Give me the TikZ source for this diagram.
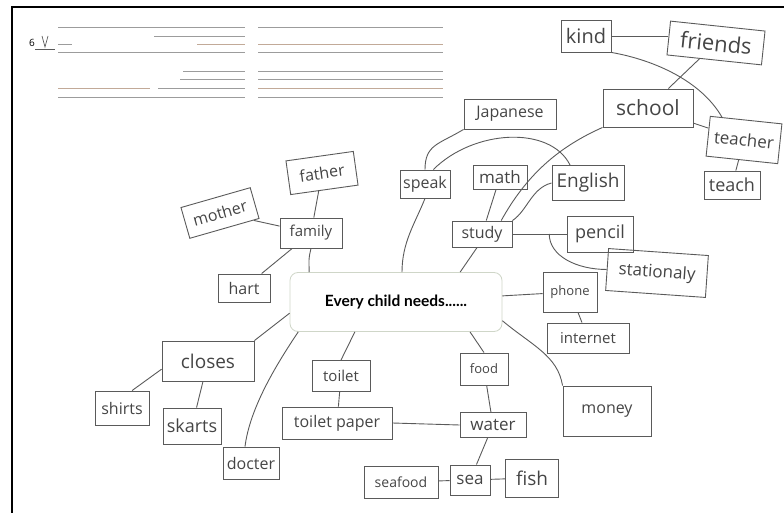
\documentclass[tikz,border=0pt]{standalone}
\usepackage{fontspec}
\setmainfont{Open Sans}
\newfontfamily\hubfont{Lato}
\usepackage{xcolor}
\usepackage{tikz}
\definecolor{pencil}{HTML}{5a5a5a}
\definecolor{ink}{HTML}{454545}
\definecolor{rulegray}{HTML}{9c9c9c}
\definecolor{rulebrown}{HTML}{c2aa98}
\definecolor{hubline}{HTML}{cfd6c8}
\newcommand{\fs}[1]{\fontsize{#1}{#1}\selectfont}
\tikzset{
    % hand written words
    word/.style={draw=pencil, line width=0.9pt, text=ink, inner sep=0pt, font=\fs{16}},
    bigword/.style={word, font=\fs{20}},
    smallword/.style={word, font=\fs{13}},
    link/.style={pencil, line width=0.9pt},
    % printed centre box
    hub/.style={draw=hubline, line width=0.8pt, rounded corners=8pt, fill=white, text=black, font=\hubfont\bfseries\fs{15.5}},
    formline/.style={rulegray, line width=1pt},
    formline2/.style={rulebrown, line width=1pt}
}

\begin{document}
\begin{tikzpicture}[x=1pt, y=-1pt]
    \useasboundingbox (0,0) rectangle (784,513);
    % frame
    \draw[black, line width=2.2pt] (12,513) -- (12,7) -- (784,7);

    % answer lines at the top
    \node[font=\fs{10}] (num) at (32,43) {6};
    \draw[pencil, line width=0.7pt] (35,49) -- (55,49);
    \draw[pencil, line width=0.7pt] (42,36) -- (45,47) -- (48,36);
    \foreach \y in {28,53,98} {
        \draw[formline] (58,\y) -- (245,\y);
    }
    \draw[formline] (154,37) -- (245,37);
    \draw[formline] (58,45) -- (72,45);
    \draw[formline2] (197,45) -- (245,45);
    \draw[formline] (183,72) -- (245,72);
    \draw[formline] (180,80) -- (245,80);
    \draw[formline2] (58,89) -- (150,89);
    \draw[formline] (158,89) -- (245,89);
    \foreach \y in {28,53,72,80,98} {
        \draw[formline] (258,\y) -- (443,\y);
    }
    \foreach \y in {45,89} {
        \draw[formline2] (258,\y) -- (443,\y);
    }

    % centre
    \node[hub, minimum width=212, minimum height=59] (hub) at (396,302) {Every child needs......};

    % top right
    \node[bigword, minimum width=50, minimum height=32] (kind) at (586,36) {kind};
    \node[bigword, font=\fs{22}, rotate=-6, minimum width=95, minimum height=34] (friends) at (716,43) {friends};
    \node[bigword, font=\fs{21}, minimum width=90, minimum height=38] (school) at (648,108) {school};
    \node[word, font=\fs{17}, rotate=-6, minimum width=72, minimum height=40] (teacher) at (744,140) {teacher};
    \node[word, font=\fs{18}, minimum width=56, minimum height=28] (teach) at (732,185) {teach};

    % study
    \node[word, minimum width=92, minimum height=30] (Japanese) at (510,114) {Japanese};
    \node[word, minimum width=50, minimum height=28] (speak) at (425,184) {speak};
    \node[word, font=\fs{17}, minimum width=54, minimum height=24] (math) at (500,177) {math};
    \node[bigword, font=\fs{19}, minimum width=72, minimum height=35] (English) at (588,183) {English};
    \node[word, minimum width=60, minimum height=26] (study) at (482,234) {study};
    \node[word, font=\fs{18}, minimum width=66, minimum height=36] (pencil) at (600,234) {pencil};
    \node[word, font=\fs{17}, rotate=-4, minimum width=100, minimum height=42] (stationaly) at (657,273) {stationaly};
    \node[smallword, minimum width=54, minimum height=40] (phone) at (570,292) {phone};
    \node[word, font=\fs{15}, minimum width=82, minimum height=30] (internet) at (588,338) {internet};

    % family
    \node[word, rotate=8, minimum width=68, minimum height=34] (father) at (322,173) {father};
    \node[word, rotate=16, minimum width=72, minimum height=32] (mother) at (220,213) {mother};
    \node[word, font=\fs{15}, minimum width=62, minimum height=30] (family) at (311,233) {family};
    \node[word, minimum width=52, minimum height=28] (hart) at (244,288) {hart};

    % clothes
    \node[bigword, font=\fs{19}, minimum width=92, minimum height=40] (closes) at (208,361) {closes};
    \node[word, minimum width=54, minimum height=34] (shirts) at (122,408) {shirts};
    \node[word, font=\fs{18}, minimum width=58, minimum height=36] (skarts) at (192,426) {skarts};
    \node[word, minimum width=56, minimum height=32] (docter) at (251,463) {docter};

    % toilet and food
    \node[word, font=\fs{15}, minimum width=58, minimum height=31] (toilet) at (341,376) {toilet};
    \node[word, minimum width=110, minimum height=32] (toiletpaper) at (337,423) {toilet paper};
    \node[smallword, minimum width=48, minimum height=32] (food) at (484,369) {food};
    \node[word, font=\fs{17}, minimum width=66, minimum height=25] (water) at (493,425) {water};
    \node[word, font=\fs{17}, minimum width=40, minimum height=30] (sea) at (470,480) {sea};
    \node[bigword, font=\fs{19}, minimum width=53, minimum height=38] (fish) at (532,478) {fish};
    \node[word, font=\fs{14}, minimum width=74, minimum height=32] (seafood) at (401,482) {seafood};
    \node[word, minimum width=88, minimum height=50] (money) at (607,411) {money};

    % links
    \draw[link] (kind) -- (kind -| friends.west);
    \draw[link] (kind.south east) .. controls +(45,8) and +(-20,-35) .. (teacher.140);
    \draw[link] (friends) -- (school);
    \draw[link] (school) -- (teacher);
    \draw[link] (teacher) -- (teach);
    \draw[link] (Japanese.south west) .. controls +(-25,15) and +(0,-25) .. (speak.north);
    \draw[link] (speak.60) .. controls +(40,-40) and +(-20,-40) .. (English.135);
    \draw[link] (school.south west) .. controls +(-45,20) and +(25,-45) .. (study.35);
    \draw[link] (English.west) .. controls +(-20,5) and +(15,-10) .. (study.north east);
    \draw[link] (math) -- (study);
    \draw[link] (study.east) -- (pencil.west) coordinate[pos=0.68] (fork);
    \draw[link] (fork) .. controls +(0,22) and +(-30,0) .. (stationaly.west);
    \draw[link] (study.250) -- (hub.25);
    \draw[link] (speak.south) .. controls +(-10,25) and +(0,-30) .. ([xshift=6pt]hub.north);
    \draw[link] (hub) -- (phone);
    \draw[link] (phone) -- (internet);
    \draw[link] (hub.-10) .. controls +(30,25) and +(-5,-30) .. (money.north west);

    \draw[link] (family.south) .. controls +(-3,12) and +(0,-10) .. (hub.161);
    \draw[link] (father) -- (family);
    \draw[link] (mother) -- (family);
    \draw[link] (hart) -- (family);

    \draw[link] (hub.186) -- (closes.north east);
    \draw[link] (closes.190) -- (shirts.60);
    \draw[link] (closes) -- (skarts);
    \draw[link] (hub.197) .. controls +(-20,30) and +(5,-40) .. (docter.110);

    \draw[link] (hub.-144) -- (toilet.north);
    \draw[link] (toilet) -- (toiletpaper);
    \draw[link] (toiletpaper.east) -- (water.west);
    \draw[link] (hub.-22) -- (food.north);
    \draw[link] (food) -- (water);
    \draw[link] (water) -- (sea);
    \draw[link] (seafood) -- (sea);
    \draw[link] (sea) -- (fish);
\end{tikzpicture}
\end{document}
